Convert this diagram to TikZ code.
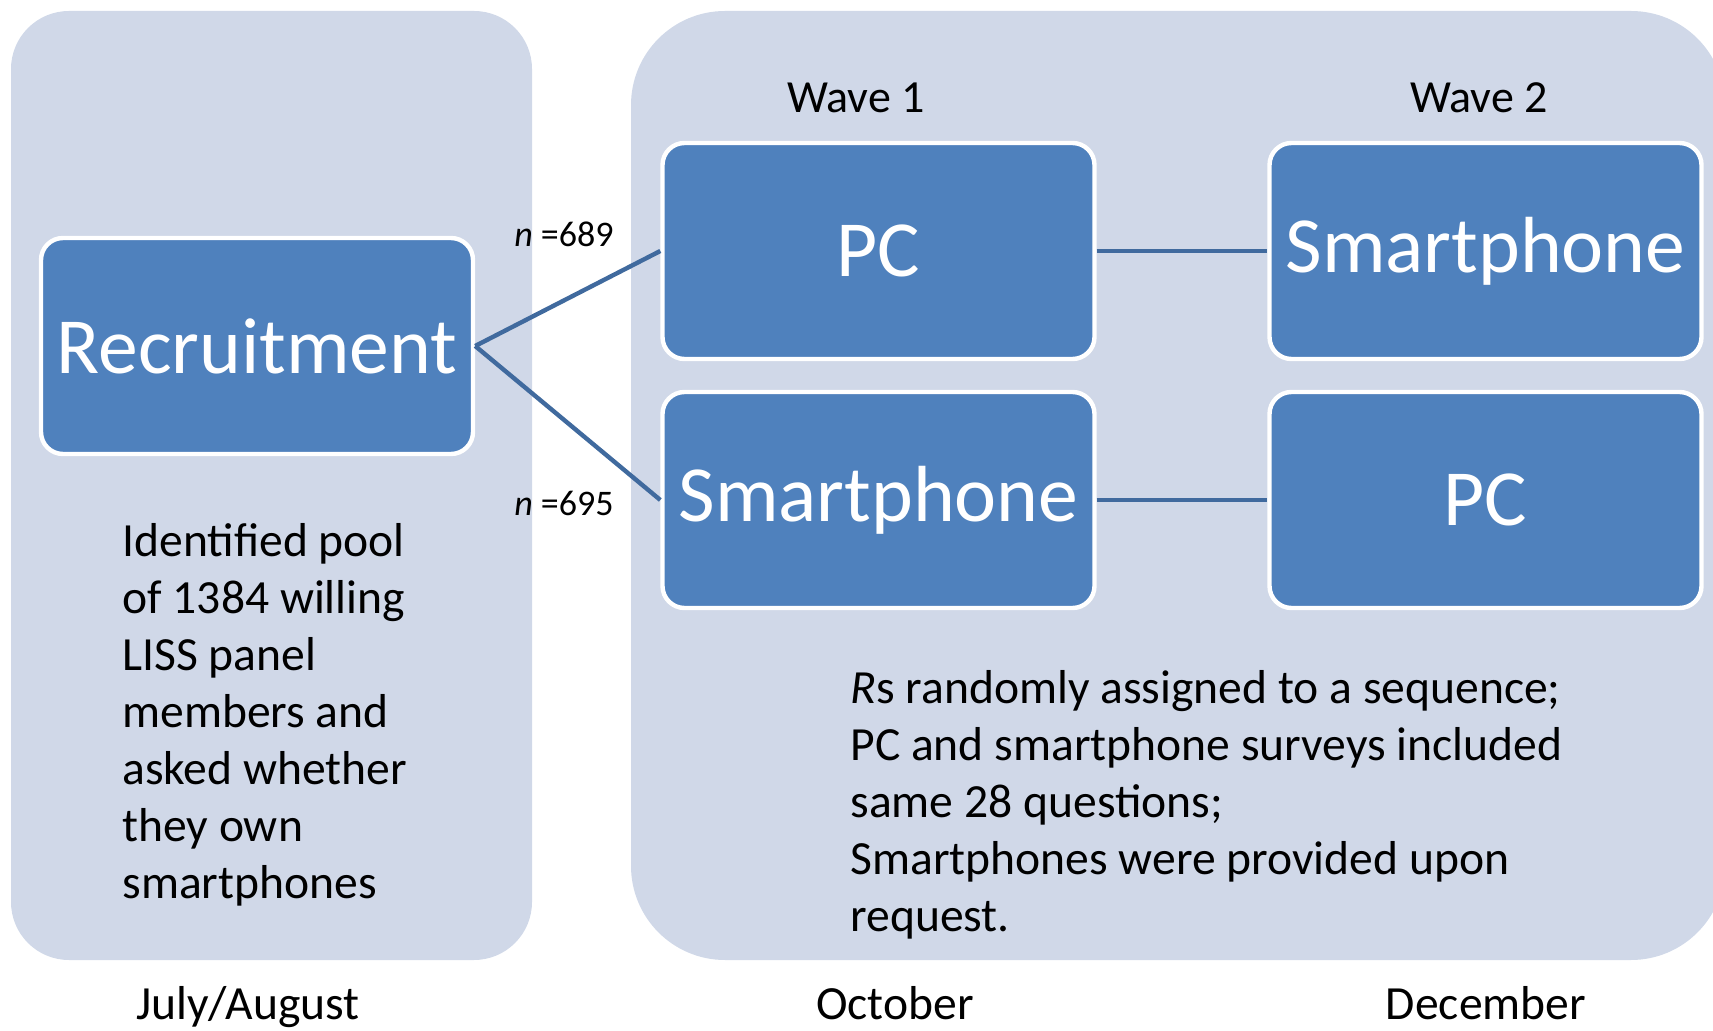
\documentclass[tikz,border=0pt]{standalone}
\usepackage{fontspec}
\setmainfont{Carlito}
\definecolor{panel}{RGB}{208,216,232}
\definecolor{boxblue}{RGB}{79,129,189}
\definecolor{linkblue}{RGB}{64,106,158}
\begin{document}
\begin{tikzpicture}[x=0.5pt,y=-0.5pt,
  bluebox/.style={draw=white,line width=2.2pt,fill=boxblue,rounded corners=11pt,
    minimum width=216pt,minimum height=108pt,inner sep=0pt,text=white,
    font=\fontsize{39.8}{46}\selectfont},
  link/.style={draw=linkblue,line width=2.2pt},
  wave/.style={font=\fontsize{23}{27}\selectfont,inner sep=0pt},
  nlab/.style={font=\fontsize{18}{22}\selectfont,inner sep=0pt,anchor=east},
  body/.style={font=\fontsize{23.8}{28.5}\selectfont,inner sep=0pt,align=left,anchor=west},
  month/.style={font=\fontsize{23.8}{28.5}\selectfont,inner sep=0pt,anchor=base}]
\useasboundingbox (0,0) rectangle (1713,1031);
\clip (0,0) rectangle (1713,1031);
% panels
\fill[panel,rounded corners=29pt] (11,11) rectangle (532,960);
\fill[panel,rounded corners=47pt] (631,11) rectangle (1725,960);
% boxes
\node[bluebox] (rec) at (257,346) {Recruitment};
\node[bluebox] (pc1) at (878.5,251) {PC};
\node[bluebox] (sp1) at (878.5,500) {Smartphone};
\node[bluebox] (sp2) at (1485.5,251) {Smartphone};
\node[bluebox] (pc2) at (1485.5,500) {PC};
% connectors
\draw[link] (rec.east) -- (pc1.west);
\draw[link] (rec.east) -- (sp1.west);
\draw[link] (pc1.east) -- (sp2.west);
\draw[link] (sp1.east) -- (pc2.west);
% labels
\node[wave] (w1) at (856,98) {Wave 1};
\node[wave] (w2) at (1479,98) {Wave 2};
\node[nlab] (n1) at (614,234) {\textit{n} =689};
\node[nlab] (n2) at (614,503) {\textit{n} =695};
\node[body] (lt) at (122,715) {Identified pool\\of 1384 willing\\LISS panel\\members and\\asked whether\\they own\\smartphones};
\node[body] (rt) at (850,805) {\textit{R}s randomly assigned to a sequence;\\PC and smartphone surveys included\\same 28 questions;\\Smartphones were provided upon\\request.};
\node[month] (m1) at (248,1019) {July/August};
\node[month] (m2) at (895,1019) {October};
\node[month] (m3) at (1486,1019) {December};
\end{tikzpicture}
\end{document}
